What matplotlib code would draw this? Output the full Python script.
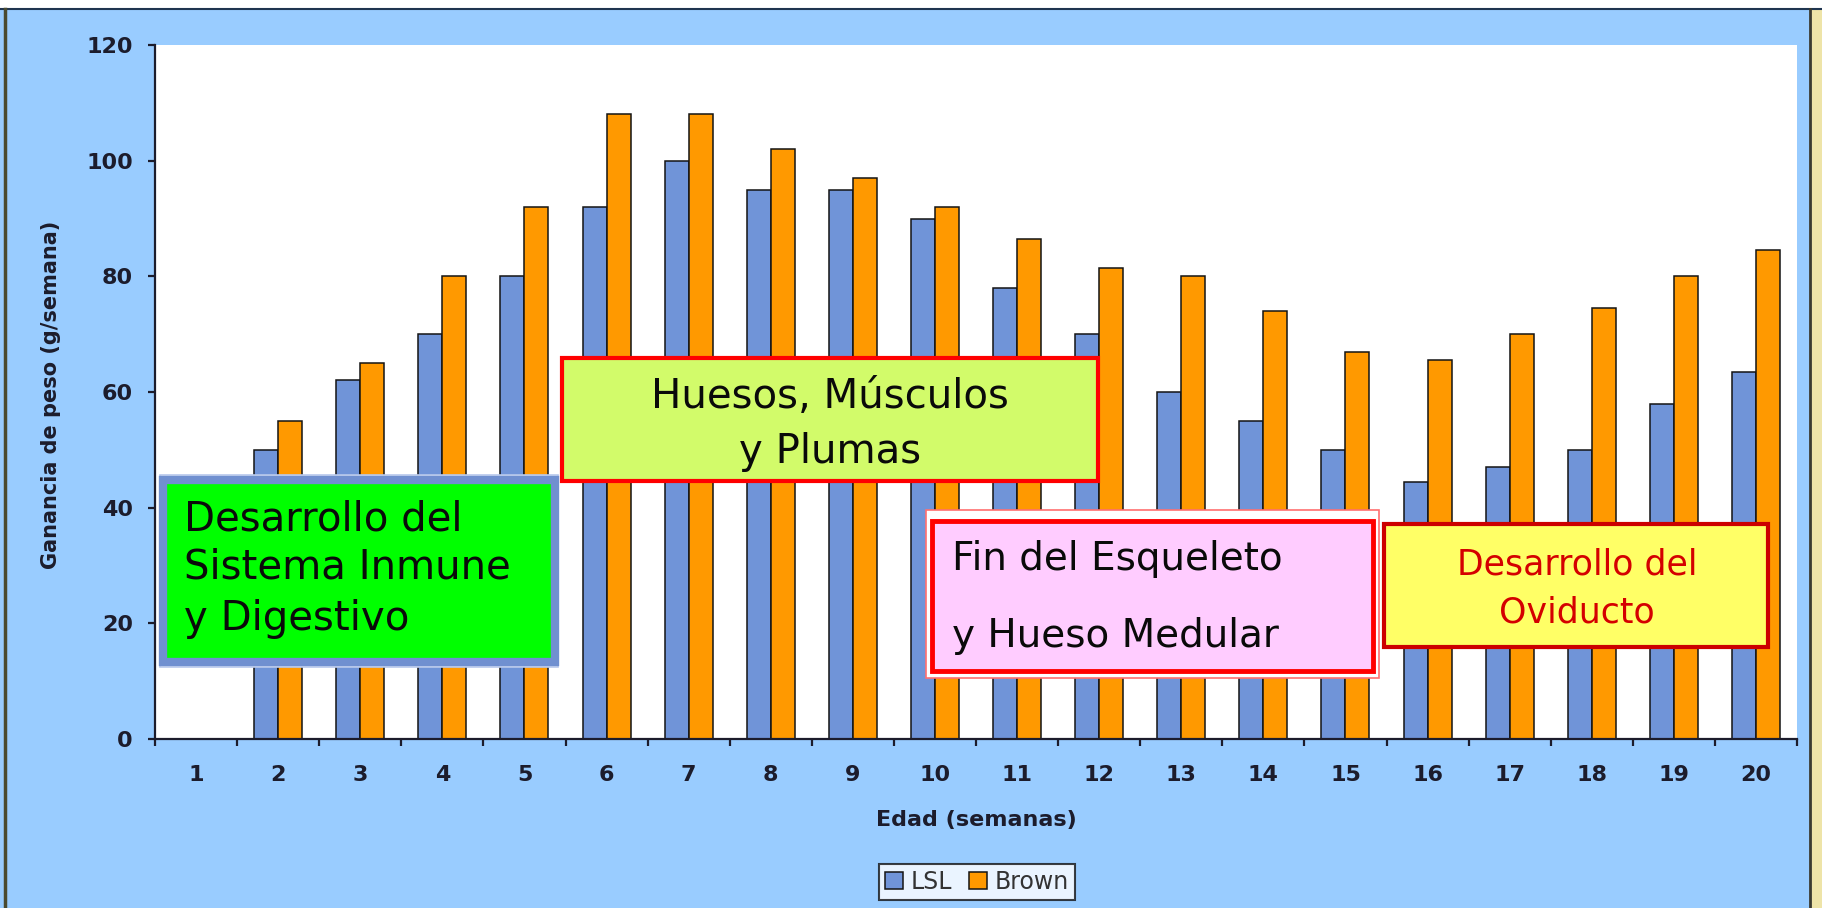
import numpy as np
import matplotlib
matplotlib.use("Agg")
import matplotlib.pyplot as plt
from matplotlib.patches import Rectangle

# weekly weight gain (g/week)
weeks = [str(w) for w in range(1, 21)]
lsl = [0, 50, 62, 70, 80, 92, 100, 95, 95, 90, 78, 70, 60, 55, 50, 44.5, 47, 50, 58, 63.5]
brown = [0, 55, 65, 80, 92, 108, 108, 102, 97, 92, 86.5, 81.5, 80, 74, 67, 65.5, 70, 74.5, 80, 84.5]

BG = "#99CCFF"
INK = "#1c1c2c"

W, H = 1822, 908
fig = plt.figure(figsize=(W / 100, H / 100), dpi=100, facecolor=BG)


def px(x, y):
    """figure pixels (top-left origin) -> figure fraction"""
    return x / W, 1 - y / H


# slide frame
fig.add_artist(Rectangle((0, 1 - 8 / H), 1, 8 / H, transform=fig.transFigure,
                         facecolor="white", edgecolor="none"))
fig.add_artist(plt.Line2D([0, 1], [1 - 8.5 / H] * 2, transform=fig.transFigure,
                          color="#1f3550", lw=1.5))
fig.add_artist(plt.Line2D([5 / W] * 2, [0, 1 - 8.5 / H], transform=fig.transFigure,
                          color="#4a4a30", lw=2.5))
fig.add_artist(Rectangle((1811 / W, 0), 11 / W, 1 - 8.5 / H, transform=fig.transFigure,
                         facecolor="#EEE4A8", edgecolor="none"))
fig.add_artist(plt.Line2D([1810 / W] * 2, [0, 1 - 8.5 / H], transform=fig.transFigure,
                          color="#3a3a30", lw=2))

l, t = px(155, 45)
r, b = px(1797, 739)
ax = fig.add_axes([l, b, r - l, t - b])
ax.set_facecolor("white")

x = np.arange(len(weeks))
bw = 0.292
ax.bar(x - bw / 2, lsl, bw, color="#7094D8", edgecolor="#141414", linewidth=1.1, label="LSL", zorder=2)
ax.bar(x + bw / 2, brown, bw, color="#FF9900", edgecolor="#141414", linewidth=1.1, label="Brown", zorder=2)

ax.set_xlim(-0.5, len(weeks) - 0.5)
ax.set_ylim(0, 120)
ax.set_yticks(range(0, 121, 20))
ax.set_xticks(x)
ax.set_xticklabels(weeks)
ax.set_xticks(np.arange(-0.5, len(weeks)), minor=True)

for s in ["top", "right"]:
    ax.spines[s].set_visible(False)
for s in ["left", "bottom"]:
    ax.spines[s].set_color(INK)
    ax.spines[s].set_linewidth(1.6)

ax.tick_params(axis="x", which="major", length=0, pad=19, labelsize=16, labelcolor=INK)
ax.tick_params(axis="x", which="minor", length=5, width=1.6, color=INK)
ax.tick_params(axis="y", length=5, width=1.6, color=INK, pad=11, labelsize=16, labelcolor=INK)
for lab in ax.get_xticklabels() + ax.get_yticklabels():
    lab.set_fontweight("bold")

fig.text(*px(976, 820), "Edad (semanas)", ha="center", va="center",
         fontsize=16, fontweight="bold", color=INK)
fig.text(*px(51, 395), "Ganancia de peso (g/semana)", ha="center", va="center",
         rotation=90, fontsize=15, fontweight="bold", color=INK)

# annotation boxes (data coords)
ax.add_patch(Rectangle((-0.44, 12.4), 4.85, 33.3, facecolor="white",
                       edgecolor="#B8C8EC", lw=1.2, zorder=4))
ax.add_patch(Rectangle((-0.40, 13.3), 4.77, 31.5, facecolor="#00FF00",
                       edgecolor="#7090D0", lw=6, zorder=5))
for txt, yb in [("Desarrollo del", 36.1), ("Sistema Inmune", 27.8), ("y Digestivo", 18.8)]:
    ax.text(-0.15, yb, txt, ha="left", va="baseline", fontsize=29, color="#0a0a0a", zorder=6)

ax.add_patch(Rectangle((4.46, 44.6), 6.52, 21.2, facecolor="#D2FB6A",
                       edgecolor="#FF0000", lw=3, zorder=5))
ax.text(7.72, 57.2, "Huesos, Músculos", ha="center", va="baseline", fontsize=29, color="#0a0a0a", zorder=6)
ax.text(7.72, 47.8, "y Plumas", ha="center", va="baseline", fontsize=29, color="#0a0a0a", zorder=6)

ax.add_patch(Rectangle((8.89, 10.5), 5.52, 29.1, facecolor="white",
                       edgecolor="#FF7070", lw=1.2, zorder=4))
ax.add_patch(Rectangle((8.97, 11.7), 5.36, 26.0, facecolor="#FFCCFF",
                       edgecolor="#FF0000", lw=3.5, zorder=5))
ax.text(9.21, 29.2, "Fin del Esqueleto", ha="left", va="baseline", fontsize=28, color="#0a0a0a", zorder=6)
ax.text(9.21, 15.9, "y Hueso Medular", ha="left", va="baseline", fontsize=28, color="#0a0a0a", zorder=6)

ax.add_patch(Rectangle((14.47, 15.9), 4.68, 21.3, facecolor="#FFFF66",
                       edgecolor="#CC0000", lw=3, zorder=5))
ax.text(16.82, 28.4, "Desarrollo del", ha="center", va="baseline", fontsize=25, color="#D40000", zorder=6)
ax.text(16.82, 20.2, "Oviducto", ha="center", va="baseline", fontsize=25, color="#D40000", zorder=6)

leg = fig.legend(loc="center", bbox_to_anchor=px(977, 882), ncol=2, fontsize=17,
                 frameon=True, fancybox=False, edgecolor="#111111", facecolor="white",
                 handlelength=0.75, handleheight=0.75, handletextpad=0.35,
                 columnspacing=0.7, borderpad=0.25, borderaxespad=0)
leg.get_frame().set_linewidth(1.5)
for txt in leg.get_texts():
    txt.set_color("#333333")

fig.savefig("out.png", dpi=100, facecolor=BG)
